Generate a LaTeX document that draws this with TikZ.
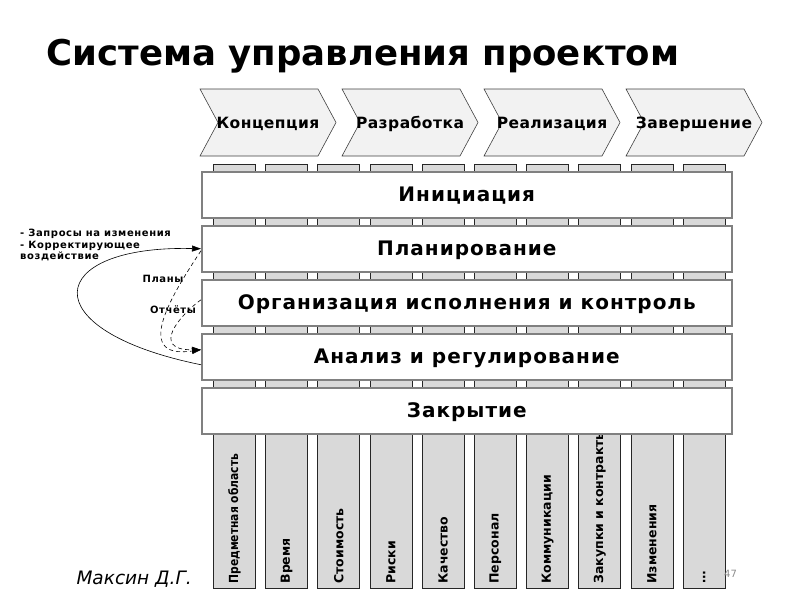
\documentclass[tikz,border=0pt]{standalone}
\usepackage{fontspec}
\setmainfont{DejaVu Sans}
\usetikzlibrary{arrows.meta, positioning, calc}
\definecolor{phasefill}{HTML}{F2F2F2}
\definecolor{areafill}{HTML}{D9D9D9}

\begin{document}
\begin{tikzpicture}[x=1pt, y=-1pt,
    phase/.style={draw=black!75, fill=phasefill, line width=0.6pt},
    phasetext/.style={font=\bfseries\fontsize{15.5}{18}\selectfont\addfontfeature{LetterSpace=3}, text height=11pt, text depth=0pt},
    area/.style={draw=black!85, fill=areafill, line width=0.7pt, minimum width=42pt, minimum height=424pt, anchor=north west, inner sep=0pt},
    areatext/.style={font=\bfseries\fontsize{12.5}{15}\selectfont, rotate=90, anchor=west, inner sep=0pt},
    group/.style={draw=black!50, fill=white, line width=1.5pt, minimum width=530pt, minimum height=46pt, anchor=north west, inner sep=0pt, text height=14pt, text depth=0pt, font=\bfseries\fontsize{20}{22}\selectfont\addfontfeature{LetterSpace=5}},
    note/.style={font=\bfseries\fontsize{10}{11.5}\selectfont\addfontfeature{LetterSpace=6}},
    flow/.style={-{Triangle[length=9pt,width=6pt]}, line width=0.6pt}]
  \useasboundingbox (0,0) rectangle (800,600);
  \node[font=\bfseries\fontsize{35.5}{40}\selectfont, anchor=base west] (title) at (43,65) {Система управления проектом};
  % phases
  \foreach \txt [count=\i from 0] in {Концепция, Разработка, Реализация, Завершение} {
    \draw[phase] (200+142*\i, 89) -- ++(118,0) -- ++(18,33.5) -- ++(-18,33.5) -- ++(-118,0) -- ++(18,-33.5) -- cycle;
    \node[phasetext] (ph\i) at (268+142*\i, 122.5) {\txt};
  }
  % knowledge areas
  \foreach \txt [count=\i from 0] in {{\addfontfeature{FakeStretch=0.86}Предметная область}, Время, Стоимость, Риски, Качество, Персонал, Коммуникации, Закупки и контракты, Изменения, \dots} {
    \node[area] (a\i) at (213+52.2*\i, 164) {};
    \node[areatext] (t\i) at ([yshift=5pt]a\i.south) {\txt};
  }
  % process groups
  \foreach \txt [count=\i from 1] in {Инициация, Планирование, Организация исполнения и контроль, Анализ и регулирование, Закрытие}
    \node[group] (g\i) at (201, {171+54*(\i-1)}) {\txt};
  \draw[flow] ([yshift=-8pt]g4.west) .. controls (30,330) and (45,245) .. (g2.west);
  \draw[flow, dash pattern=on 4pt off 3pt] ([yshift=-2pt]g2.west) .. controls (175,290) and (130,360) .. ([yshift=7pt]g4.west);
  \draw[flow, dash pattern=on 4pt off 3pt] ([yshift=3pt]g3.west) .. controls (180,315) and (150,350) .. ([yshift=7pt]g4.west);
  \node[note] (plans) at (163,279) {Планы};
  \node[note] (reports) at (173,310) {Отчёты};
  \node[note, align=left, anchor=north west, inner sep=0pt] (requests) at (20,229) {- Запросы на изменения\\- Корректирующее\\воздействие};
  \node[font=\itshape\fontsize{18.5}{22}\selectfont, anchor=base west] (author) at (73,584) {Максин Д.Г.};
  \node[text=black!45, font=\fontsize{10}{12}\selectfont, anchor=base west, inner sep=0pt] (page) at (724,577) {47};
\end{tikzpicture}
\end{document}
